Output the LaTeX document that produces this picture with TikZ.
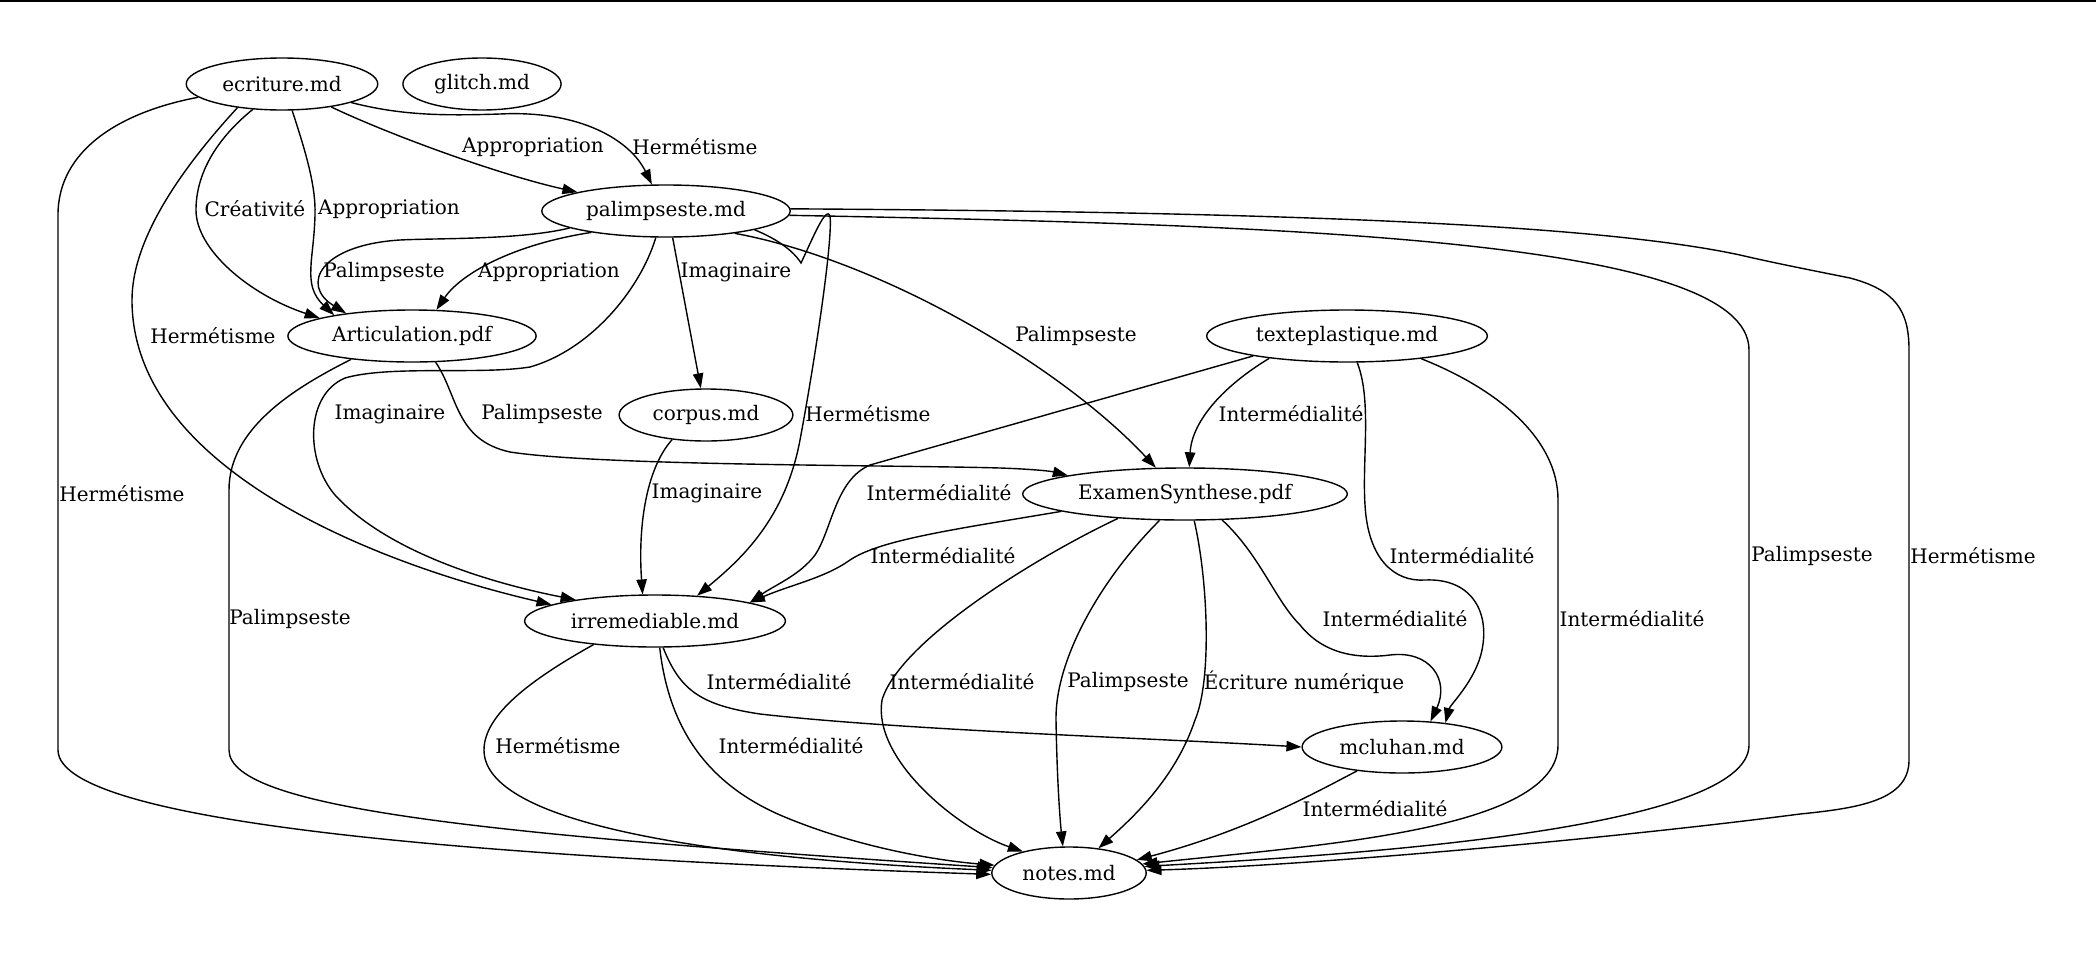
\documentclass[tikz,border=0pt]{standalone}
\usepackage{fontspec}
\setmainfont{DejaVu Serif}
\usetikzlibrary{shapes.geometric,arrows.meta}

\begin{document}
\begin{tikzpicture}[x=0.5pt, y=-0.5pt, line width=0.7pt,
  fichier/.style={ellipse, draw, inner xsep=4pt, inner ysep=0pt, minimum height=26pt, font=\fontsize{10}{12}\selectfont},
  etiq/.style={inner sep=0pt, font=\fontsize{10}{12}\selectfont},
  lien/.style={-{Triangle[length=7.5pt,width=5.2pt]}}]
\useasboundingbox (0,0) rectangle (2096,958);
\draw[line width=1pt] (0,1) -- (2096,1);
\node[fichier] (ecriture) at (282,84) {ecriture.md};
\node[fichier] (glitch) at (482,84) {glitch.md};
\node[fichier] (palimpseste) at (666,211) {palimpseste.md};
\node[fichier] (articulation) at (412,336) {Articulation.pdf};
\node[fichier] (texteplastique) at (1347,336) {texteplastique.md};
\node[fichier] (corpus) at (706,415) {corpus.md};
\node[fichier] (examen) at (1185,494) {ExamenSynthese.pdf};
\node[fichier] (irremediable) at (655,621) {irremediable.md};
\node[fichier] (mcluhan) at (1402,747) {mcluhan.md};
\node[fichier] (notes) at (1069,873) {notes.md};
\node[etiq] (l1) at (122,494) {Hermétisme};
\node[etiq] (l2) at (213,336) {Hermétisme};
\node[etiq] (l3) at (255,209) {Créativité};
\node[etiq] (l4) at (389,209) {Appropriation};
\node[etiq] (l5) at (533,147) {Appropriation};
\node[etiq] (l6) at (695,147) {Hermétisme};
\node[etiq] (l7) at (384,272) {Palimpseste};
\node[etiq] (l8) at (549,272) {Appropriation};
\node[etiq] (l9) at (390,414) {Imaginaire};
\node[etiq] (l10) at (736,272) {Imaginaire};
\node[etiq] (l11) at (868,414) {Hermétisme};
\node[etiq] (l12) at (1076,336) {Palimpseste};
\node[etiq] (l13) at (1812,556) {Palimpseste};
\node[etiq] (l14) at (1973,556) {Hermétisme};
\node[etiq] (l15) at (542,414) {Palimpseste};
\node[etiq] (l16) at (290,619) {Palimpseste};
\node[etiq] (l17) at (707,493) {Imaginaire};
\node[etiq] (l18) at (939,493) {Intermédialité};
\node[etiq] (l19) at (1291,414) {Intermédialité};
\node[etiq] (l20) at (1462,556) {Intermédialité};
\node[etiq] (l21) at (1632,619) {Intermédialité};
\node[etiq] (l22) at (943,556) {Intermédialité};
\node[etiq] (l23) at (962,682) {Intermédialité};
\node[etiq] (l24) at (1128,682) {Palimpseste};
\node[etiq] (l25) at (1304,682) {Écriture numérique};
\node[etiq] (l26) at (1395,619) {Intermédialité};
\node[etiq] (l27) at (558,746) {Hermétisme};
\node[etiq] (l28) at (791,746) {Intermédialité};
\node[etiq] (l29) at (779,682) {Intermédialité};
\node[etiq] (l30) at (1375,809) {Intermédialité};
\draw[lien] (ecriture.189) .. controls (120,112) and (58,150) .. (58,215) -- (58,750) .. controls (58,830) and (560,860) .. (notes.181);
\draw[lien] (ecriture.208) .. controls (180,170) and (132,240) .. (132,300) .. controls (132,470) and (380,565) .. (irremediable.171);
\draw[lien] (ecriture.221) .. controls (215,140) and (196,175) .. (196,210) .. controls (196,250) and (250,295) .. (articulation.169);
\draw[lien] (ecriture.291) .. controls (305,150) and (316,185) .. (315,215) .. controls (314,260) and (302,285) .. (articulation.165);
\draw[lien] (ecriture.335) .. controls (390,135) and (500,175) .. (palimpseste.168);
\draw[lien] (ecriture.345) .. controls (400,115) and (440,116) .. (500,114) .. controls (580,110) and (630,140) .. (palimpseste.118);
\draw[lien] (palimpseste.190) .. controls (520,240) and (440,238) .. (400,240) .. controls (320,245) and (300,285) .. (articulation.161);
\draw[lien] (palimpseste.196) .. controls (510,245) and (460,275) .. (articulation.47);
\draw[lien] (palimpseste.249) .. controls (640,290) and (590,350) .. (530,367) .. controls (480,375) and (390,365) .. (345,378) .. controls (305,395) and (305,460) .. (335,495) .. controls (390,555) and (500,585) .. (irremediable.165);
\draw[lien] (palimpseste.284) -- (corpus.101);
\draw[lien] (palimpseste.348) .. controls (775,238) and (793,250) .. (801,263) .. controls (812,240) and (826,205) .. (830,216) .. controls (833,240) and (815,360) .. (800,440) .. controls (785,520) and (740,560) .. (irremediable.31);
\draw[lien] (palimpseste.342) .. controls (880,260) and (1060,365) .. (examen.138);
\draw[lien] (palimpseste.358) .. controls (1300,225) and (1749,240) .. (1749,350) -- (1749,745) .. controls (1749,830) and (1350,855) .. (notes.5);
\draw[lien] (palimpseste.1) .. controls (1300,212) and (1600,225) .. (1740,255) .. controls (1770,262) and (1800,268) .. (1850,278) .. controls (1895,290) and (1909,310) .. (1909,350) -- (1909,760) .. controls (1909,800) and (1860,808) .. (1800,814) .. controls (1600,840) and (1300,866) .. (notes.2);
\draw[lien] (articulation.312) .. controls (458,395) and (455,440) .. (510,452) .. controls (600,466) and (900,465) .. (1000,468) .. controls (1030,469) and (1050,471) .. (examen.171);
\draw[lien] (articulation.201) .. controls (290,390) and (229,430) .. (229,490) -- (229,750) .. controls (229,810) and (500,835) .. (notes.176);
\draw[lien] (corpus.216) .. controls (645,470) and (638,530) .. (irremediable.115);
\draw[lien] (texteplastique.192) -- (870,465) .. controls (835,480) and (832,530) .. (815,555) .. controls (800,575) and (775,585) .. (irremediable.11);
\draw[lien] (texteplastique.196) .. controls (1225,385) and (1192,420) .. (examen.81);
\draw[lien] (texteplastique.291) .. controls (1372,400) and (1362,460) .. (1365,505) .. controls (1368,560) and (1395,582) .. (1425,580) .. controls (1470,578) and (1490,610) .. (1482,650) .. controls (1476,680) and (1450,705) .. (mcluhan.29);
\draw[lien] (texteplastique.343) .. controls (1500,390) and (1558,440) .. (1558,500) -- (1558,745) .. controls (1558,830) and (1320,845) .. (notes.7);
\draw[lien] (examen.188) .. controls (950,530) and (880,540) .. (850,560) .. controls (825,578) and (790,585) .. (irremediable.11);
\draw[lien] (examen.200) .. controls (1040,555) and (900,640) .. (882,700) .. controls (872,760) and (960,830) .. (notes.155);
\draw[lien] (examen.226) .. controls (1100,580) and (1055,660) .. (1056,720) .. controls (1057,780) and (1060,820) .. (notes.103);
\draw[lien] (examen.289) .. controls (1208,580) and (1212,680) .. (1195,720) .. controls (1175,780) and (1130,820) .. (notes.40);
\draw[lien] (examen.325) .. controls (1260,555) and (1275,600) .. (1300,625) .. controls (1320,650) and (1350,660) .. (1390,655) .. controls (1430,650) and (1450,680) .. (mcluhan.42);
\draw[lien] (irremediable.201) .. controls (530,680) and (484,715) .. (484,750) .. controls (484,830) and (750,860) .. (notes.178);
\draw[lien] (irremediable.280) .. controls (668,720) and (700,780) .. (780,815) .. controls (850,845) and (930,860) .. (notes.174);
\draw[lien] (irremediable.287) .. controls (680,690) and (700,705) .. (760,714) .. controls (900,730) and (1150,738) .. (mcluhan.west);
\draw[lien] (mcluhan.208) .. controls (1320,790) and (1250,830) .. (notes.11);
\end{tikzpicture}
\end{document}
